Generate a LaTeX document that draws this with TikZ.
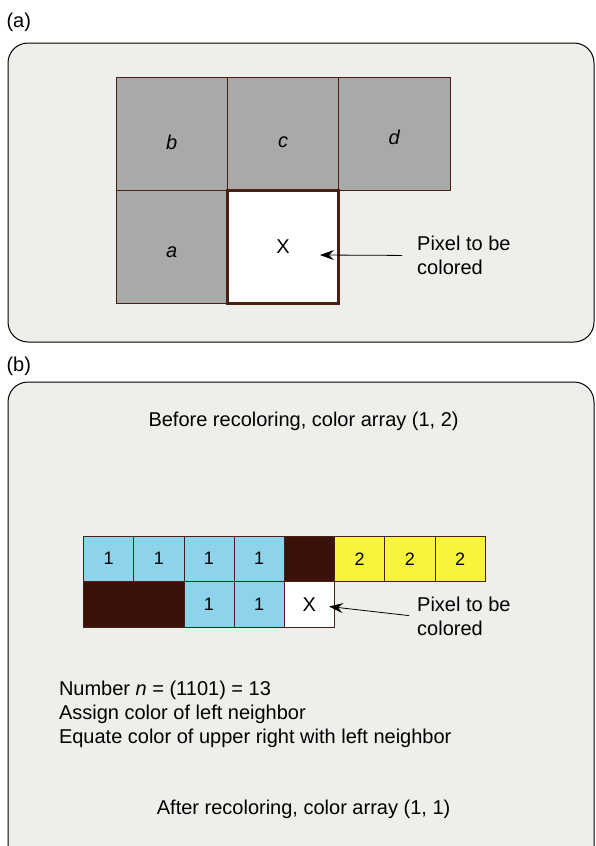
\documentclass[tikz,border=0pt]{standalone}
\usepackage{fontspec}
\setmainfont{Liberation Sans}
\usetikzlibrary{arrows.meta}

\definecolor{panelgray}{HTML}{EEEEEB}
\definecolor{cellgray}{HTML}{A9A9A7}
\definecolor{edgebrown}{HTML}{4A1E12}
\definecolor{darkbrown}{HTML}{3A120A}
\definecolor{pixblue}{HTML}{8ED3EC}
\definecolor{pixyellow}{HTML}{F6F53C}

\tikzset{
    panel/.style={draw=black, line width=1pt, fill=panelgray, rounded corners=20pt},
    tag/.style={anchor=west, font=\fontsize{20}{24}\selectfont},
    txt/.style={font=\fontsize{20}{24}\selectfont, inner sep=0pt},
    bigcell/.style={draw=edgebrown, line width=0.8pt, fill=cellgray,
        minimum width=111.3pt, minimum height=113pt, inner sep=0pt},
    celltext/.style={font=\fontsize{20}{22}\selectfont\itshape},
    smallcell/.style={draw=edgebrown, line width=0.7pt, minimum width=50.2pt,
        minimum height=45.6pt, inner sep=0pt, outer sep=0pt,
        font=\fontsize{18}{22}\selectfont},
    pointer/.style={-{Stealth[length=14pt,width=10pt,inset=5pt]}, line width=0.8pt},
}

\begin{document}
\begin{tikzpicture}[x=1pt,y=-1pt]
    \useasboundingbox[fill=white] (0,0) rectangle (595,846);

    % panel (a)
    \node[tag] (taga) at (3,22) {(a)};
    \draw[panel] (8,43) rectangle (594,342);

    \node[bigcell] (b) at (171.7,133.5) {};
    \node[bigcell] (c) at (283.0,133.5) {};
    \node[bigcell] (d) at (394.3,133.5) {};
    \node[bigcell] (a) at (171.7,246.5) {};
    \node[bigcell, fill=white, line width=3pt, font=\fontsize{20}{22}\selectfont]
        (xa) at (283.0,246.5) {X};
    \node[celltext] (lb) at ([yshift=-9pt]b.center) {b};
    \node[celltext] (lc) at ([yshift=-9pt]c.center) {c};
    \node[celltext] (ld) at ([yshift=-4pt]d.center) {d};
    \node[celltext] (la) at ([yshift=-6pt]a.center) {a};

    \node[txt, anchor=west, align=left] (lbla) at (417,255.5) {Pixel to be\\colored};
    \coordinate (tipa) at (320,255);
    \draw[pointer, shorten <=15pt] (lbla.west) -- (tipa);

    % panel (b)
    \node[tag] (tagb) at (3,366) {(b)};
    \draw[panel] (8,382) rectangle (594,866);

    \node[txt] (before) at (303.6,421.7) {Before recoloring, color array (1, 2)};

    \foreach \i in {1,...,4}{
        \node[smallcell, fill=pixblue] (t\i) at ({83.5+50.2*(\i-0.5)},558.8) {1};
    }
    \node[smallcell, fill=darkbrown] (t5) at ({83.5+50.2*4.5},558.8) {};
    \foreach \i in {6,...,8}{
        \node[smallcell, fill=pixyellow] (t\i) at ({83.5+50.2*(\i-0.5)},558.8) {2};
    }

    \node[smallcell, fill=darkbrown, minimum width=100.4pt] (bg) at (133.7,604.5) {};
    \node[smallcell, fill=pixblue] (u3) at ({83.5+50.2*2.5},604.5) {1};
    \node[smallcell, fill=pixblue] (u4) at ({83.5+50.2*3.5},604.5) {1};
    \node[smallcell, fill=white, line width=1.2pt, font=\fontsize{20}{22}\selectfont]
        (xb) at ({83.5+50.2*4.5},604.5) {X};

    \node[txt, anchor=west, align=left] (lblb) at (417,616.5) {Pixel to be\\colored};
    \coordinate (tipb) at (329,606.5);
    \draw[pointer, shorten <=8pt] (lblb.west) -- (tipb);

    \node[txt, anchor=north west, align=left] (steps) at (58.8,681)
        {Number \textit{n} = (1101) = 13\\
         Assign color of left neighbor\\
         Equate color of upper right with left neighbor};

    \node[txt] (after) at (303.6,809) {After recoloring, color array (1, 1)};
\end{tikzpicture}
\end{document}
